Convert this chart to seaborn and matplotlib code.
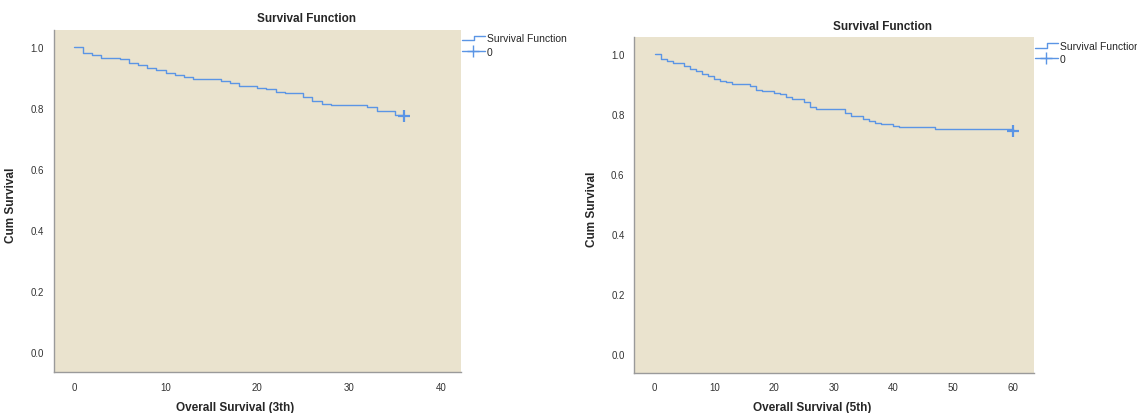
import matplotlib
matplotlib.use("Agg")
import matplotlib.pyplot as plt
import seaborn as sns
from matplotlib.lines import Line2D
from matplotlib.legend_handler import HandlerBase

# ---- data ----
t_3y = [0, 1, 2, 3, 5, 6, 7, 8, 9, 10, 11, 12, 13, 16, 17, 18, 20, 21, 22, 23,
        25, 26, 27, 28, 32, 33, 35, 36]
surv_3y = [1.0, 0.981, 0.976, 0.965, 0.961, 0.948, 0.942, 0.931, 0.925, 0.915,
           0.911, 0.904, 0.897, 0.890, 0.882, 0.874, 0.867, 0.862, 0.853, 0.850,
           0.837, 0.823, 0.813, 0.810, 0.803, 0.790, 0.780, 0.775]
cens_3y_t = [36]
cens_3y_s = [0.775]

t_5y = [0, 1, 2, 3, 5, 6, 7, 8, 9, 10, 11, 12, 13, 16, 17, 18, 20, 21, 22, 23,
        25, 26, 27, 32, 33, 35, 36, 37, 38, 39, 40, 41, 47, 60]
surv_5y = [1.0, 0.983, 0.977, 0.968, 0.961, 0.949, 0.942, 0.932, 0.926, 0.916,
           0.910, 0.906, 0.899, 0.892, 0.879, 0.876, 0.869, 0.865, 0.856, 0.851,
           0.839, 0.823, 0.815, 0.802, 0.792, 0.782, 0.776, 0.771, 0.768, 0.765,
           0.760, 0.755, 0.751, 0.744]
cens_5y_t = [60]
cens_5y_s = [0.744]

yticks = [0.0, 0.2, 0.4, 0.6, 0.8, 1.0]
xticks_3y = [0, 10, 20, 30, 40]
xticks_5y = [0, 10, 20, 30, 40, 50, 60]
legend_labels = ["Survival Function", "0"]

BG = "#EAE3CE"
BLUE = "#5B95E5"

sns.set_style("white")
plt.rcParams["font.family"] = ["Liberation Sans", "DejaVu Sans"]


class StepHandler(HandlerBase):
    # little step icon like the SPSS legend
    def create_artists(self, legend, orig, xd, yd, w, h, fs, trans):
        xs = [xd, xd + w * 0.55, xd + w * 0.55, xd + w]
        ys = [yd + h * 0.15, yd + h * 0.15, yd + h * 0.8, yd + h * 0.8]
        return [Line2D(xs, ys, color=orig.get_color(), lw=1, transform=trans)]


fig = plt.figure(figsize=(11.37, 4.14), dpi=100)
ax1 = fig.add_axes([0.0472, 0.0983, 0.3582, 0.8268])
ax2 = fig.add_axes([0.5579, 0.0973, 0.3515, 0.8101])

panels = [
    (ax1, t_3y, surv_3y, cens_3y_t, cens_3y_s, xticks_3y, (-2.2, 42.2), (-0.065, 1.057),
     "Overall Survival (3th)"),
    (ax2, t_5y, surv_5y, cens_5y_t, cens_5y_s, xticks_5y, (-3.4, 63.6), (-0.062, 1.055),
     "Overall Survival (5th)"),
]

for ax, t, s, ct, cs, xt, xlim, ylim, xlab in panels:
    ax.set_facecolor(BG)
    sns.lineplot(x=t, y=s, drawstyle="steps-post", estimator=None, color=BLUE,
                 lw=1.0, ax=ax)
    sns.scatterplot(x=ct, y=cs, marker="+", s=70, color=BLUE, linewidth=1.6, ax=ax)
    ax.set_xlim(*xlim)
    ax.set_ylim(*ylim)
    ax.set_xticks(xt)
    ax.set_yticks(yticks)
    ax.set_yticklabels([f"{v:.1f}" for v in yticks])
    ax.tick_params(length=0, labelsize=7, colors="#333333", pad=7)
    for side in ["top", "right"]:
        ax.spines[side].set_visible(False)
    for side in ["left", "bottom"]:
        ax.spines[side].set_color("#9a9a9a")
        ax.spines[side].set_linewidth(1)

    ax.text(0.622, 1.035, "Survival Function", transform=ax.transAxes, ha="center",
            va="center", fontsize=8.5, fontweight="bold")
    ax.set_xlabel(xlab, fontsize=8.5, fontweight="bold")
    ax.xaxis.set_label_coords(0.445, -0.083)
    ax.set_ylabel("Cum Survival", fontsize=8.5, fontweight="bold")
    ax.yaxis.set_label_coords(-0.09, 0.49)

    handles = [Line2D([], [], color=BLUE, lw=1),
               Line2D([], [], color=BLUE, lw=1, marker="+", markersize=8,
                      markeredgewidth=1)]
    ax.legend(handles, legend_labels, loc="upper left", bbox_to_anchor=(1.002, 0.99),
              frameon=False, fontsize=7.5, borderpad=0, borderaxespad=0,
              handlelength=2.2, handletextpad=0.2, labelspacing=0.3,
              handler_map={handles[0]: StepHandler()})

fig.savefig("out.png", dpi=100)
